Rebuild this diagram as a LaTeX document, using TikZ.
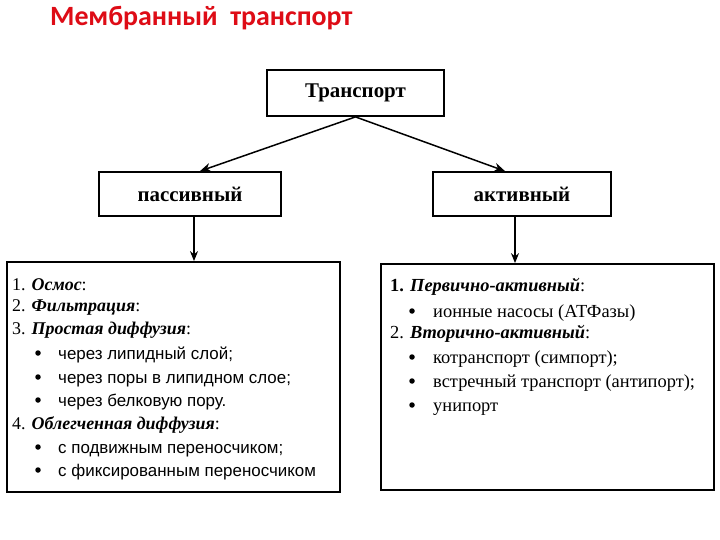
\documentclass[tikz,border=0pt]{standalone}
\usepackage{fontspec}
\setmainfont{Liberation Serif}
\newfontfamily\titlefont{Carlito}
\newfontfamily\arialf{Liberation Sans}
\usetikzlibrary{arrows.meta}
\definecolor{titlered}{RGB}{222,12,22}
\begin{document}
\begin{tikzpicture}[x=1bp,y=-1bp,
  box/.style={draw, line width=1.8bp, inner sep=0pt},
  boxtext/.style={font=\bfseries\fontsize{21}{23}\selectfont},
  arr/.style={line width=1.5bp, -{Stealth[length=11bp,width=9bp]}},
  vline/.style={line width=1.2bp, -{Stealth[length=10bp,width=8bp]}},
  item/.style={anchor=base west, inner sep=0pt, font=\fontsize{18}{20}\selectfont},
  sitem/.style={anchor=base west, inner sep=0pt, font=\arialf\fontsize{17}{19}\selectfont},
  ritem/.style={anchor=base west, inner sep=0pt, font=\fontsize{18.5}{20}\selectfont},
  bul/.style={circle, fill=black, inner sep=0pt, minimum size=5.5bp}]
\useasboundingbox (0,0) rectangle (720,540);
\fill[white] (0,0) rectangle (720,540);
\node[anchor=west, inner sep=0pt, text=titlered, font=\titlefont\bfseries\fontsize{28}{32}\selectfont] (title) at (50,18) {Мембранный\ \ транспорт};

\node[box, boxtext, minimum width=177bp, minimum height=46bp] (tr) at (355.5,93) {Транспорт};
\node[box, boxtext, minimum width=182bp, minimum height=44bp] (pas) at (190,194) {пассивный};
\node[box, boxtext, minimum width=178bp, minimum height=44bp] (act) at (522,194) {активный};
\node[box, minimum width=333bp, minimum height=230bp] (lbox) at (173.5,377) {};
\node[box, minimum width=333bp, minimum height=226bp] (rbox) at (547.5,377) {};

\coordinate (pt) at ([xshift=10bp]pas.north);
\coordinate (at) at ([xshift=-17bp]act.north);
\draw[arr] (tr.south) -- (pt);
\draw[arr] (tr.south) -- (at);
\coordinate (p1) at ([xshift=4bp]pas.south);
\coordinate (a1) at ([xshift=-7bp]act.south);
\draw[vline] (p1) -- (p1 |- lbox.north);
\draw[vline] (a1) -- (a1 |- rbox.north);

% left list
\node[item] (l1) at (12,290) {1. \textbf{\textit{Осмос}}:};
\node[item] (l2) at (12,311.5) {2. \textbf{\textit{Фильтрация}}:};
\node[item] (l3) at (12,334) {3. \textbf{\textit{Простая диффузия}}:};
\node[bul] (lb1) at (38,353) {};
\node[sitem] (l4) at (58,359) {через липидный слой;};
\node[bul] (lb2) at (38,377) {};
\node[sitem] (l5) at (58,383) {через поры в липидном слое;};
\node[bul] (lb3) at (38,400) {};
\node[sitem] (l6) at (58,406) {через белковую пору.};
\node[item] (l7) at (12,429) {4. \textbf{\textit{Облегченная диффузия}}:};
\node[bul] (lb4) at (38,447) {};
\node[sitem] (l8) at (58,453) {с подвижным переносчиком;};
\node[bul] (lb5) at (38,470) {};
\node[sitem] (l9) at (58,476.5) {с фиксированным переносчиком};

% right list
\node[ritem] (r1) at (390,291.5) {\textbf{1.} \textbf{\textit{Первично-активный}}:};
\node[bul] (rb1) at (412,311) {};
\node[ritem] (r2) at (433,317) {ионные насосы (АТФазы)};
\node[ritem] (r3) at (390,338.5) {2. \textbf{\textit{Вторично-активный}}:};
\node[bul] (rb2) at (412,357) {};
\node[ritem] (r4) at (433,363.5) {котранспорт (симпорт);};
\node[bul] (rb3) at (412,381) {};
\node[ritem] (r5) at (433,387.5) {встречный транспорт (антипорт);};
\node[bul] (rb4) at (412,405) {};
\node[ritem] (r6) at (433,411.5) {унипорт};
\end{tikzpicture}
\end{document}
